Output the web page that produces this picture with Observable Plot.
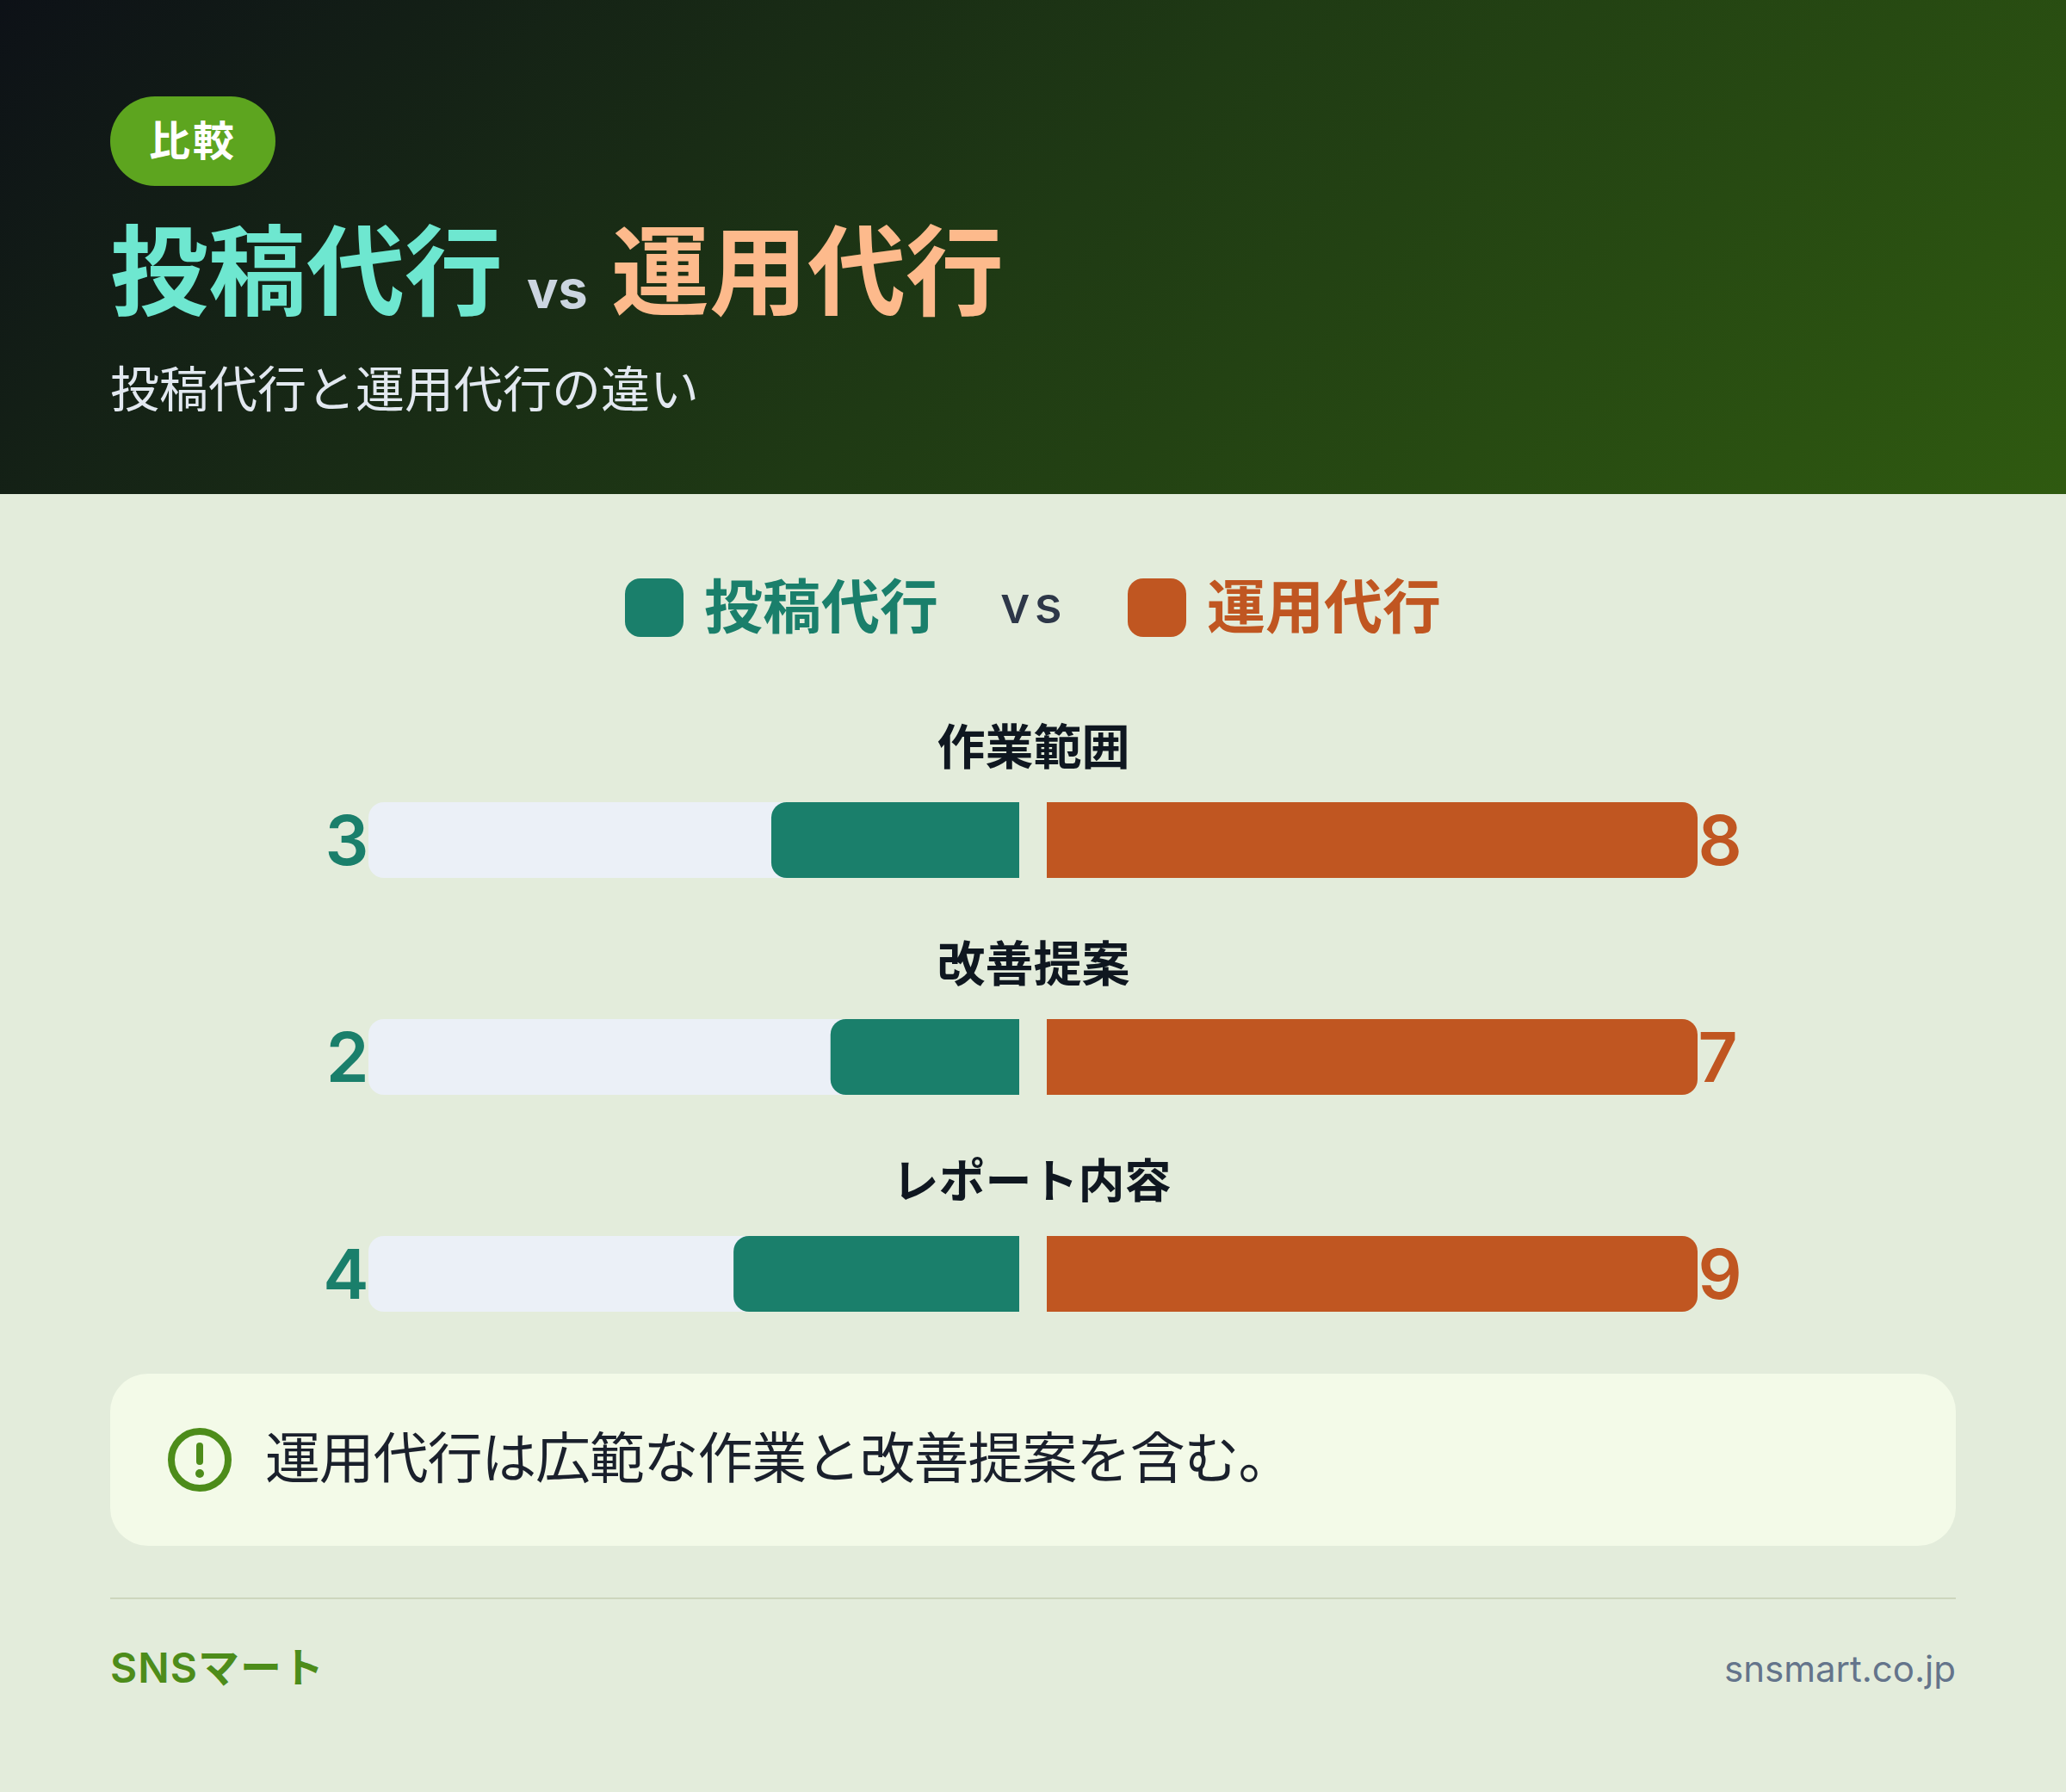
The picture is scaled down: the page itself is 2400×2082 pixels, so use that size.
<!DOCTYPE html>
<html lang="ja"><head><meta charset="utf-8">
<script src="https://cdn.jsdelivr.net/npm/d3@7"></script>
<script src="https://cdn.jsdelivr.net/npm/@observablehq/plot@0.6"></script>
<style>
html,body{margin:0;padding:0;background:#e3ecdb}
#page{position:relative;width:2400px;height:2082px;overflow:hidden;background:#e3ecdb;font-family:Inter,"Noto Sans CJK JP",sans-serif}
#page div,#page span{position:absolute;white-space:nowrap}
#head{left:0;top:0;width:2400px;height:574px;background:linear-gradient(135deg,#0d1117 0%,#1f3a14 50%,#2f5a10 100%)}
#badge{left:128px;top:112px;width:192px;height:104px;border-radius:52px;background:#5da51f;color:#fff;font-weight:700;font-size:48px;line-height:104px;text-align:center;letter-spacing:3px}
.t{font-weight:700;font-size:114px;line-height:140px;top:246px}
#sub{left:128px;top:413px;font-size:57px;line-height:80px;color:#e2e8f0;font-weight:400}
.sw{width:68px;height:68px;border-radius:18px;top:672px}
.lg{font-size:68px;font-weight:700;line-height:90px;top:660px}
svg.ch{position:absolute;left:0;top:780px;background:transparent;overflow:visible}
#box{left:128px;top:1596px;width:2144px;height:200px;border-radius:44px;background:#f3fae8}
#msg{left:308px;top:1649px;font-size:64px;letter-spacing:-1.2px;line-height:90px;color:#1a202c}
#rule{left:128px;top:1856px;width:2144px;height:2px;background:#cdd6bd}
#brand{left:128px;top:1905px;font-size:48px;font-weight:600;letter-spacing:1px;line-height:66px;color:#4d8c1a}
#url{right:128px;top:1908px;font-size:42px;line-height:62px;color:#64748b}
</style></head><body><div id="page"></div>
<script>
const categories=["作業範囲","改善提案","レポート内容"];
const leftValues=[3,2,4];
const rightValues=[8,7,9];
const leftShare=[0.381,0.29,0.439];
const rightShare=[1,1,1];
const trackShare=[1,1,1];
const seriesNames=["投稿代行","運用代行"];
const title="比較", subtitle="投稿代行と運用代行の違い", note="運用代行は広範な作業と改善提案を含む。", brand="SNSマート", url="snsmart.co.jp";

const page=document.getElementById("page");
const html=`
<div id="head"></div><div id="badge">${title}</div>
<div class="t" style="left:128px;color:#6ee7d0">${seriesNames[0]}</div>
<div class="t" style="left:612px;top:276px;font-size:61px;line-height:120px;color:#cbd5e0">vs</div>
<div class="t" style="left:710px;color:#fdba8c">${seriesNames[1]}</div>
<div id="sub">${subtitle}</div>
<div class="sw" style="left:726px;background:#1a7f6b"></div>
<div class="lg" style="left:818px;color:#1a7f6b">${seriesNames[0]}</div>
<div class="lg" style="left:1162px;top:657px;font-size:60px;font-weight:500;letter-spacing:5px;color:#2d3748">vs</div>
<div class="sw" style="left:1310px;background:#c05621"></div>
<div class="lg" style="left:1402px;color:#c05621">${seriesNames[1]}</div>
<div id="box"></div><div id="msg">${note}</div>
<svg style="position:absolute;left:192px;top:1656px" width="80" height="80" viewBox="0 0 80 80"><circle cx="40" cy="40" r="33" fill="none" stroke="#4d8c1a" stroke-width="8"/><rect x="36" y="20" width="8" height="26" rx="4" fill="#4d8c1a"/><circle cx="40" cy="56" r="5" fill="#4d8c1a"/></svg>
<div id="rule"></div><div id="brand">${brand}</div><div id="url">${url}</div>`;
page.innerHTML=html;

const rows=categories.map((c,i)=>({c,lv:leftValues[i],rv:rightValues[i],ls:leftShare[i],rs:rightShare[i],ts:trackShare[i]}));
const yScale={domain:categories,paddingInner:0.651,paddingOuter:0};
const base={width:2400,height:744,marginTop:152,marginBottom:0,marginLeft:0,marginRight:0,className:"ch",style:{background:"transparent"}};
const font='Inter,"Noto Sans CJK JP",sans-serif';
const R=18;
const left=Plot.plot({...base,
  x:{domain:[0,1],range:[1184,428],axis:null},y:{...yScale,axis:null},
  marks:[
    Plot.barX(rows,{x1:0,x2:"ts",y:"c",fill:"#ebf0f7",rx1:R}),
    Plot.barX(rows,{x1:0,x2:"ls",y:"c",fill:"#1a7f6b",rx1:R}),
    Plot.text(rows,{x:"ts",y:"c",text:d=>String(d.lv),textAnchor:"end",dx:0,dy:3,fill:"#1a7f6b",fontSize:80,fontWeight:600,fontFamily:font}),
    Plot.text(rows.filter(d=>d.c.length<=4),{frameAnchor:"middle",y:"c",text:"c",dy:-106,fill:"#0f1720",fontSize:56,fontWeight:700,fontFamily:font}),
    Plot.text(rows.filter(d=>d.c.length>4),{frameAnchor:"middle",y:"c",text:"c",dx:-2,dy:-106,fill:"#0f1720",fontSize:54,fontWeight:700,fontFamily:font})
  ]});
const right=Plot.plot({...base,
  x:{domain:[0,1],range:[1216,1972],axis:null},y:{...yScale,axis:null},
  marks:[
    Plot.barX(rows,{x1:0,x2:"rs",y:"c",fill:"#c05621",rx2:R}),
    Plot.text(rows,{x:"rs",y:"c",text:d=>String(d.rv),textAnchor:"start",dx:0,dy:3,fill:"#c05621",fontSize:80,fontWeight:600,fontFamily:font})
  ]});
page.append(left,right);
</script></body></html>
